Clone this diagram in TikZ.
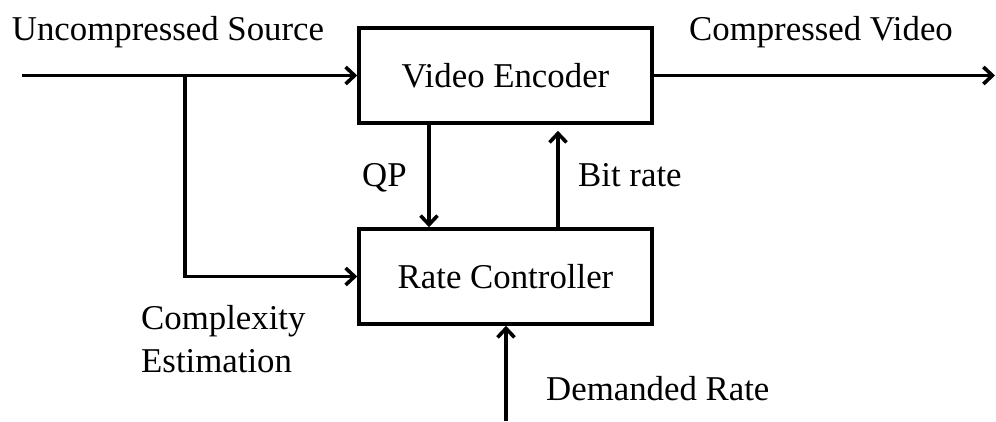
\documentclass[tikz,border=0pt]{standalone}
\usepackage{fontspec}
\setmainfont{Liberation Serif}
\usetikzlibrary{arrows.meta}

\tikzset{
	blk/.style={draw,line width=3.6pt,minimum width=293pt,minimum height=95pt,inner sep=0pt},
	lbl/.style={inner sep=0pt},
}

\begin{document}
\begin{tikzpicture}[x=1pt,y=-1pt,font=\fontsize{34.8}{43}\selectfont]
		\useasboundingbox (0,0) rectangle (996,421);
		\node[blk] (enc) at (505.5,75.5) {Video Encoder};
		\node[blk] (rc) at (505.5,276.5) {Rate Controller};

		\coordinate (src) at (22,75.5);
		\coordinate (sink) at (995,75.5);
		\coordinate (br) at (185,75.5);
		\coordinate (qp) at (429,0);
		\coordinate (bt) at (558,0);
		\coordinate (dem) at (506,421);

		\begin{scope}[-{Straight Barb[length=9pt,width=17pt,line width=3.6pt]},line width=3.6pt]
		    \draw (src) -- (enc.west);
		    \draw (enc.east) -- (sink);
		    \draw (br) |- (rc.west);
		    \draw (qp |- enc.south) -- (qp |- rc.north);
		    \draw[shorten >=6pt] (bt |- rc.north) -- (bt |- enc.south);
		    \draw (dem) -- (dem |- rc.south);
		\end{scope}

		\node[lbl,anchor=base] (srclbl) at (168,40) {Uncompressed Source};
		\node[lbl,anchor=base] (outlbl) at (821,40) {Compressed Video};
		\node[lbl,anchor=base west] (qplbl) at (362,186) {QP};
		\node[lbl,anchor=base west] (btlbl) at (578,186) {Bit rate};
		\node[lbl,anchor=base west] (cxlbl) at (141,329) {Complexity};
		\node[lbl,anchor=base west] (eslbl) at (141,372) {Estimation};
		\node[lbl,anchor=base west] (demlbl) at (546,400) {Demanded Rate};
	    \end{tikzpicture}
\end{document}
